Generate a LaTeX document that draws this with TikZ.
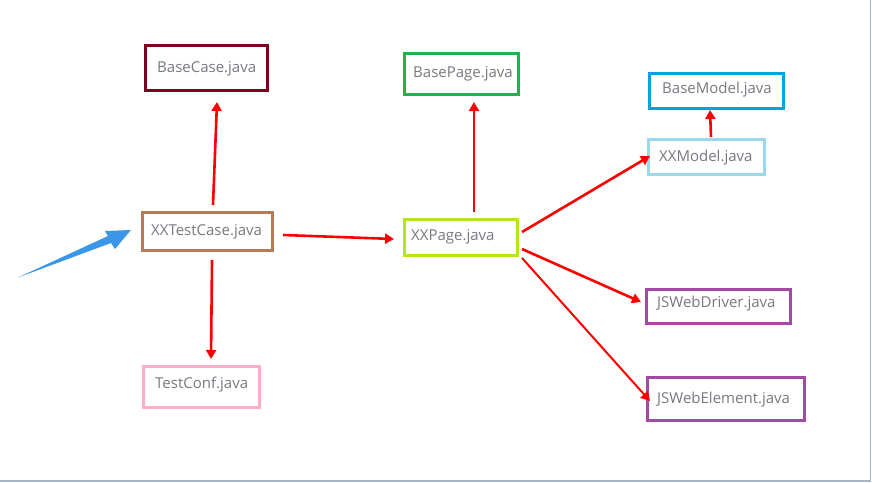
\documentclass[tikz,border=0pt]{standalone}
\usepackage{fontspec}
\setmainfont{Open Sans}
\usetikzlibrary{arrows.meta}
\definecolor{txtgray}{RGB}{120,120,128}
\definecolor{cbasecase}{RGB}{128,0,32}
\definecolor{cbasepage}{RGB}{34,177,76}
\definecolor{cbasemodel}{RGB}{0,162,232}
\definecolor{cxxmodel}{RGB}{153,217,234}
\definecolor{ctestcase}{RGB}{185,122,87}
\definecolor{cxxpage}{RGB}{181,230,29}
\definecolor{cpurple}{RGB}{163,73,164}
\definecolor{cpink}{RGB}{255,174,201}
\definecolor{cblue}{RGB}{58,150,230}
\definecolor{cframe}{RGB}{165,180,200}
\begin{document}
\begin{tikzpicture}[x=1pt,y=-1pt,
  filebox/.style={draw=#1,line width=3pt,minimum width=0pt,minimum height=0pt,inner sep=0pt,outer sep=0pt},
  filetext/.style={anchor=west,inner sep=0pt,text=txtgray,font=\fontsize{15}{17}\selectfont},
  redarrow/.style={draw=red,line width=2.6pt,-{Triangle[length=9pt,width=10pt]}}]
\useasboundingbox (0,0) rectangle (872,482);
\fill[white] (0,0) rectangle (872,482);
\draw[cframe,line width=1.5pt] (0,481) -- (870.5,481) -- (870.5,0);
% boxes
\node[filebox=cbasecase,minimum width=122pt,minimum height=45pt] (bc) at (206.5,68) {};
\node[filebox=cbasepage,minimum width=114pt,minimum height=41pt] (bp) at (461.5,74) {};
\node[filebox=cbasemodel,minimum width=134pt,minimum height=35pt] (bm) at (716.5,91) {};
\node[filebox=cxxmodel,minimum width=116pt,minimum height=35pt] (xm) at (706.5,157) {};
\node[filebox=ctestcase,minimum width=130pt,minimum height=38pt] (tc) at (207.5,231.5) {};
\node[filebox=cxxpage,minimum width=113pt,minimum height=36pt] (xp) at (461,237.5) {};
\node[filebox=cpurple,minimum width=144pt,minimum height=34pt] (jd) at (718.5,306.5) {};
\node[filebox=cpurple,minimum width=157pt,minimum height=43pt] (je) at (726,399) {};
\node[filebox=cpink,minimum width=116pt,minimum height=41pt] (cf) at (201.5,387) {};
% texts
\node[filetext] (tbc) at (157,69) {BaseCase.java};
\node[filetext] (tbp) at (413,74) {BasePage.java};
\node[filetext] (tbm) at (662,90) {BaseModel.java};
\node[filetext] (txm) at (659,158) {XXModel.java};
\node[filetext] (ttc) at (151,232) {XXTestCase.java};
\node[filetext] (txp) at (411,237) {XXPage.java};
\node[filetext] (tjd) at (657,304) {JSWebDriver.java};
\node[filetext] (tje) at (657,400) {JSWebElement.java};
\node[filetext] (tcf) at (155,385) {TestConf.java};
% red arrows
\draw[redarrow] ([shift={(5.5,-26.5)}]tc.center) -- ([shift={(10.5,34)}]bc.center);
\draw[redarrow] ([shift={(4.5,28.5)}]tc.center) -- ([shift={(9.5,-28)}]cf.center);
\draw[redarrow] ([shift={(75.5,3.5)}]tc.center) -- ([shift={(-67,1.5)}]xp.center);
\draw[redarrow] ([shift={(13,-25.5)}]xp.center) -- ([shift={(12.5,28)}]bp.center);
\draw[redarrow] ([shift={(61,-5.5)}]xp.center) -- ([shift={(-56.5,-1)}]xm.center);
\draw[redarrow] ([shift={(61,11.5)}]xp.center) -- ([shift={(-77.5,-4.5)}]jd.center);
\draw[redarrow,line width=2pt] ([shift={(61,20.5)}]xp.center) -- ([shift={(-76,2)}]je.center);
\draw[redarrow] ([shift={(4.5,-20)}]xm.center) -- ([shift={(-6.5,19)}]bm.center);
% blue incoming arrow
\coordinate (btail) at (18,277.5);
\fill[cblue] (btail) -- (108,236) -- (105,231) -- (131,230) -- (115,249) -- (111,243) -- cycle;
\end{tikzpicture}
\end{document}
